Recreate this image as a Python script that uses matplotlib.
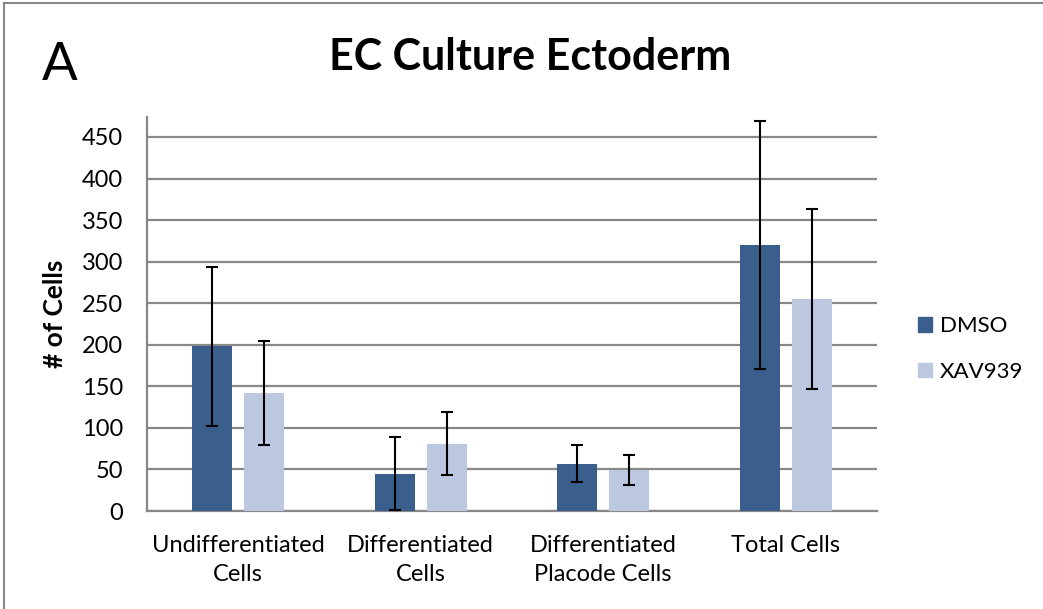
import numpy as np
import matplotlib as mpl
mpl.use('Agg')
import matplotlib.pyplot as plt
from matplotlib.patches import Patch
from matplotlib.lines import Line2D

plt.rcParams['font.family'] = ['Lato', 'DejaVu Sans']

categories = ['Undifferentiated\nCells', 'Differentiated\nCells',
              'Differentiated\nPlacode Cells', 'Total Cells']
dmso = [198, 45, 57, 320]
dmso_err = [96, 44, 22, 149]
xav = [142, 81, 49, 255]
xav_err = [63, 38, 18, 108]
yticks = [0, 50, 100, 150, 200, 250, 300, 350, 400, 450]

c_dmso = '#3b5f8d'
c_xav = '#bcc8e0'

fig = plt.figure(figsize=(10.43, 6.09), dpi=100)
ax = fig.add_axes([0.1409, 0.1609, 0.6999, 0.647])

x = np.arange(len(categories))
w = 0.22
off = 0.142
ax.bar(x - off, dmso, w, color=c_dmso, zorder=3)
ax.bar(x + off, xav, w, color=c_xav, zorder=3)
ek = dict(fmt='none', ecolor='black', elinewidth=1.5, capsize=4.5, capthick=1.5, zorder=4)
ax.errorbar(x - off, dmso, yerr=dmso_err, **ek)
ax.errorbar(x + off, xav, yerr=xav_err, **ek)

ax.set_xlim(-0.5, len(categories) - 0.5)
ax.set_ylim(0, 474)
ax.set_yticks(yticks)
ax.set_xticks(x)
ax.set_xticklabels(categories, fontsize=17, linespacing=1.5)
ax.tick_params(axis='y', labelsize=17, length=0, pad=17)
ax.tick_params(axis='x', length=0, pad=17)
ax.yaxis.grid(True, color='#888888', linewidth=1.6, zorder=0)
for s in ['top', 'right']:
    ax.spines[s].set_visible(False)
for s in ['left', 'bottom']:
    ax.spines[s].set_color('#888888')
    ax.spines[s].set_linewidth(1.6)
ax.set_ylabel('# of Cells', fontsize=19, fontweight='bold')
ax.yaxis.set_label_coords(-0.11, 0.5)

fig.text(530 / 1043, 1 - 57 / 609, 'EC Culture Ectoderm', fontsize=31,
         fontweight='bold', ha='center', va='center')
fig.text(60 / 1043, 1 - 65 / 609, 'A', fontsize=38, ha='center', va='center')

handles = [Patch(color=c_dmso), Patch(color=c_xav)]
fig.legend(handles, ['DMSO', 'XAV939'], loc='center left',
           bbox_to_anchor=(898 / 1043, 1 - 349 / 609), frameon=False,
           fontsize=16, handlelength=0.63, handleheight=0.63,
           handletextpad=0.36, labelspacing=1.15)

# chart frame
fig.add_artist(Line2D([4 / 1043, 4 / 1043], [0, 1 - 3 / 609], color='#888888',
                      linewidth=1.5, transform=fig.transFigure))
fig.add_artist(Line2D([4 / 1043, 1], [1 - 3 / 609, 1 - 3 / 609], color='#888888',
                      linewidth=1.5, transform=fig.transFigure))

fig.savefig('out.png', dpi=100)
